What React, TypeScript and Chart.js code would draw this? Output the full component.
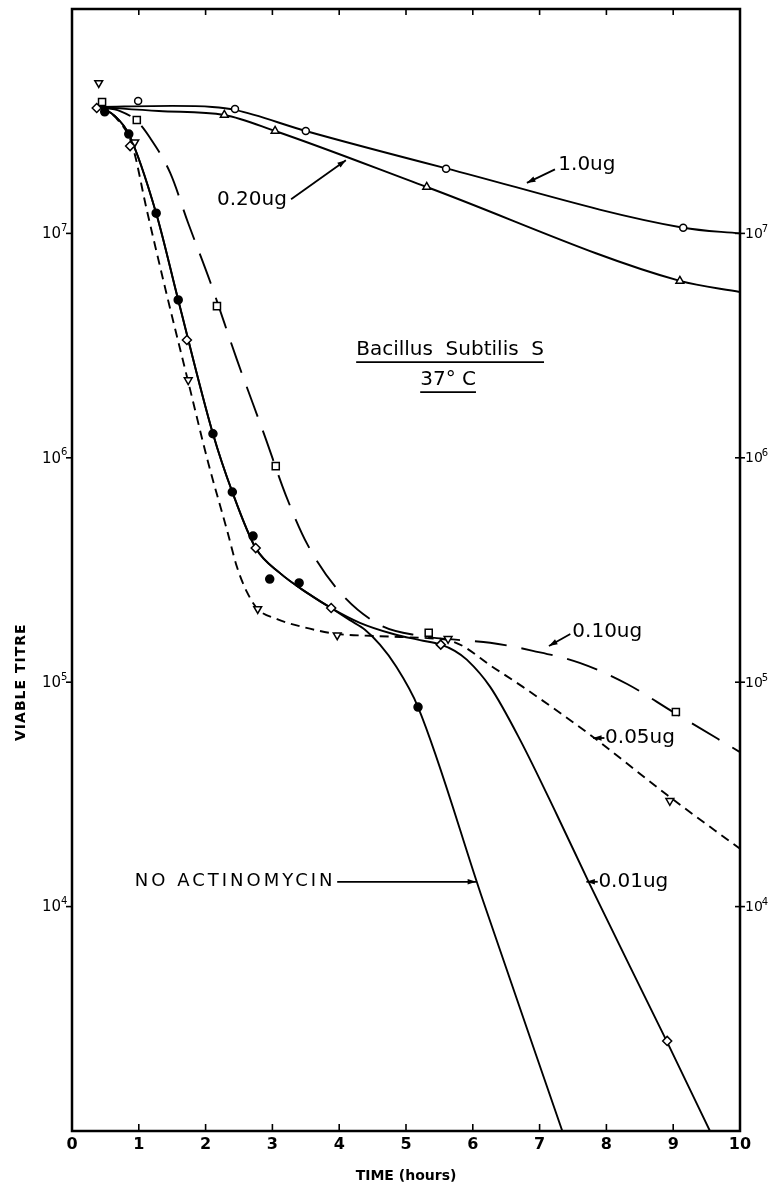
import React, { useEffect, useRef } from "react";
import { Chart, registerables } from "chart.js";

Chart.register(...registerables);

const FONT = '"DejaVu Sans", "Liberation Sans", sans-serif';

// ---- axes / text ----
const xTickValues = [0, 1, 2, 3, 4, 5, 6, 7, 8, 9, 10];
const yDecadeExponents = [4, 5, 6, 7];
const xAxisTitle = "TIME (hours)";
const yAxisTitle = "VIABLE TITRE";
const chartTitle = "Bacillus  Subtilis  S";
const chartSubtitle = "37° C";

// ---- measured points (time in hours, viable titre) ----
// NO ACTINOMYCIN – filled circles
const noActTimes = [0.49, 0.85, 1.26, 1.59, 2.11, 2.40, 2.71, 2.96, 3.40, 5.18];
const noActTitres = [3.48e7, 2.77e7, 1.23e7, 5.05e6, 1.28e6, 7.04e5, 4.48e5, 2.88e5, 2.77e5, 7.75e4];
// 0.01 ug – open diamonds
const ug001Times = [0.37, 0.87, 1.72, 2.75, 3.88, 5.52, 8.91];
const ug001Titres = [3.62e7, 2.45e7, 3.35e6, 3.96e5, 2.14e5, 1.47e5, 2.52e3];
// 0.05 ug – open triangles (down)
const ug005Times = [0.40, 0.94, 1.74, 2.78, 3.97, 5.63, 8.95];
const ug005Titres = [4.68e7, 2.55e7, 2.22e6, 2.12e5, 1.62e5, 1.56e5, 2.96e4];
// 0.10 ug – open squares
const ug010Times = [0.45, 0.97, 2.17, 3.05, 5.34, 9.04];
const ug010Titres = [3.85e7, 3.20e7, 4.74e6, 9.18e5, 1.66e5, 7.36e4];
// 0.20 ug – open triangles (up)
const ug020Times = [2.28, 3.04, 5.31, 9.10];
const ug020Titres = [3.37e7, 2.86e7, 1.61e7, 6.14e6];
// 1.0 ug – open circles
const ug100Times = [0.99, 2.44, 3.50, 5.60, 9.15];
const ug100Titres = [3.89e7, 3.58e7, 2.86e7, 1.94e7, 1.06e7];

// ---- fitted curves drawn by hand on the original ----
const noActCurveT = [0.42, 0.64, 0.85, 1.26, 1.59, 2.11, 2.40, 2.75, 3.11, 3.52, 3.88, 4.16, 4.39, 4.61, 4.84, 5.18, 6.15, 7.34];
const noActCurveV = [3.66e7, 3.34e7, 2.77e7, 1.23e7, 5.05e6, 1.28e6, 7.04e5, 3.96e5, 3.07e5, 2.50e5, 2.14e5, 1.89e5, 1.71e5, 1.47e5, 1.19e5, 7.75e4, 1.07e4, 1.0e3];

const ug001CurveT = [0.42, 0.64, 0.85, 1.26, 1.59, 2.11, 2.40, 2.75, 3.11, 3.52, 3.88, 4.31, 4.81, 5.21, 5.52, 5.73, 5.91, 6.26, 6.71, 7.26, 7.75, 8.35, 8.91, 9.55];
const ug001CurveV = [3.66e7, 3.34e7, 2.77e7, 1.23e7, 5.05e6, 1.28e6, 7.04e5, 3.96e5, 3.07e5, 2.50e5, 2.14e5, 1.84e5, 1.64e5, 1.54e5, 1.47e5, 1.38e5, 1.26e5, 9.53e4, 5.52e4, 2.56e4, 1.26e4, 5.43e3, 2.49e3, 1.0e3];

const ug005CurveT = [0.42, 0.66, 0.90, 1.12, 1.42, 1.74, 2.04, 2.32, 2.47, 2.62, 2.78, 3.07, 3.46, 3.97, 4.46, 4.91, 5.36, 5.63, 5.85, 6.26, 6.75, 7.80, 8.91, 10];
const ug005CurveV = [3.66e7, 3.27e7, 2.48e7, 1.27e7, 5.31e6, 2.18e6, 9.48e5, 4.77e5, 3.26e5, 2.52e5, 2.12e5, 1.91e5, 1.76e5, 1.64e5, 1.61e5, 1.59e5, 1.57e5, 1.54e5, 1.45e5, 1.19e5, 9.53e4, 5.70e4, 3.14e4, 1.81e4];

const ug010CurveT = [0.42, 0.72, 0.97, 1.17, 1.47, 1.74, 2.07, 2.47, 2.89, 3.20, 3.53, 4.01, 4.61, 5.21, 5.81, 6.26, 6.90, 7.60, 8.31, 9.00, 10];
const ug010CurveV = [3.66e7, 3.51e7, 3.17e7, 2.66e7, 1.86e7, 1.11e7, 6.07e6, 2.73e6, 1.24e6, 6.82e5, 4.08e5, 2.52e5, 1.80e5, 1.61e5, 1.54e5, 1.50e5, 1.38e5, 1.22e5, 9.82e4, 7.36e4, 4.88e4];

const ug020CurveT = [0.42, 1.30, 2.28, 3.04, 5.31, 9.10, 10];
const ug020CurveV = [3.66e7, 3.51e7, 3.37e7, 2.86e7, 1.61e7, 6.14e6, 5.48e6];

const ug100CurveT = [0.42, 1.50, 2.10, 2.44, 3.50, 5.60, 9.15, 10];
const ug100CurveV = [3.66e7, 3.70e7, 3.66e7, 3.55e7, 2.86e7, 1.95e7, 1.06e7, 1.0e7];

// ---- curve labels (anchored in data coordinates) ----
const curveLabels = [
  { text: "1.0ug", x: 7.28, y: 2.02e7, from: [7.23, 1.93e7], to: [6.81, 1.68e7] },
  { text: "0.20ug", x: 2.17, y: 1.41e7, from: [3.28, 1.42e7], to: [4.10, 2.12e7] },
  { text: "0.10ug", x: 7.49, y: 1.67e5, from: [7.46, 1.64e5], to: [7.14, 1.45e5] },
  { text: "0.05ug", x: 7.98, y: 5.64e4, from: [7.97, 5.64e4], to: [7.80, 5.64e4] },
  { text: "0.01ug", x: 7.88, y: 1.29e4, from: [7.87, 1.29e4], to: [7.70, 1.29e4] },
  { text: "NO ACTINOMYCIN", x: 0.94, y: 1.29e4, from: [3.97, 1.29e4], to: [6.05, 1.29e4] },
];

const pts = (xs: number[], ys: number[]) => xs.map((x, i) => ({ x, y: ys[i] }));

function seg(ctx: CanvasRenderingContext2D, x1: number, y1: number, x2: number, y2: number) {
  ctx.beginPath();
  ctx.moveTo(x1, y1);
  ctx.lineTo(x2, y2);
  ctx.stroke();
}

function arrow(ctx: CanvasRenderingContext2D, x1: number, y1: number, x2: number, y2: number) {
  ctx.lineWidth = 1.8;
  seg(ctx, x1, y1, x2, y2);
  const a = Math.atan2(y2 - y1, x2 - x1);
  const h = 9;
  ctx.beginPath();
  ctx.moveTo(x2, y2);
  ctx.lineTo(x2 - h * Math.cos(a - 0.32), y2 - h * Math.sin(a - 0.32));
  ctx.lineTo(x2 - h * Math.cos(a + 0.32), y2 - h * Math.sin(a + 0.32));
  ctx.closePath();
  ctx.fill();
}

const decorPlugin = {
  id: "decor",
  afterDatasetsDraw(chart: any) {
    const { ctx, chartArea: a, scales } = chart;
    const xs = scales.x;
    const ys = scales.y;
    ctx.save();
    ctx.strokeStyle = "#000";
    ctx.fillStyle = "#000";

    // frame
    ctx.lineWidth = 2.5;
    ctx.strokeRect(a.left, a.top, a.right - a.left, a.bottom - a.top);

    // x ticks
    ctx.lineWidth = 1.6;
    ctx.font = `bold 16px ${FONT}`;
    ctx.textAlign = "center";
    ctx.textBaseline = "middle";
    xTickValues.forEach((v) => {
      const px = xs.getPixelForValue(v);
      if (v > xs.min && v < xs.max) {
        seg(ctx, px, a.bottom, px, a.bottom - 7);
        seg(ctx, px, a.top, px, a.top + 6);
      }
      ctx.fillText(String(v), px, a.bottom + 14);
    });

    // y ticks and labels (both sides)
    yDecadeExponents.forEach((e) => {
      const py = ys.getPixelForValue(Math.pow(10, e));
      ctx.lineWidth = 1.6;
      seg(ctx, a.left - 6, py, a.left, py);
      seg(ctx, a.right - 5, py, a.right + 5, py);
      // left
      ctx.font = `15px ${FONT}`;
      ctx.textAlign = "right";
      ctx.fillText("10", a.left - 11, py + 1);
      ctx.font = `10px ${FONT}`;
      ctx.textAlign = "left";
      ctx.fillText(String(e), a.left - 11, py - 5);
      // right
      ctx.font = `14px ${FONT}`;
      ctx.textAlign = "left";
      ctx.fillText("10", a.right + 5, py + 1);
      const w = ctx.measureText("10").width;
      ctx.font = `10px ${FONT}`;
      ctx.fillText(String(e), a.right + 4 + w, py - 4);
    });

    // axis titles
    ctx.font = `bold 14px ${FONT}`;
    ctx.textAlign = "center";
    ctx.fillText(xAxisTitle, (a.left + a.right) / 2, a.bottom + 45);
    ctx.save();
    ctx.translate(21, ys.getPixelForValue(1e5));
    ctx.rotate(-Math.PI / 2);
    (ctx as any).letterSpacing = "1px";
    ctx.fillText(yAxisTitle, 0, 0);
    ctx.restore();

    // title
    ctx.font = `20px ${FONT}`;
    ctx.textAlign = "center";
    const tx = xs.getPixelForValue(5.66);
    const ty = ys.getPixelForValue(3.02e6);
    (ctx as any).letterSpacing = "0px";
    ctx.fillText(chartTitle, tx, ty);
    let w = ctx.measureText(chartTitle).width;
    ctx.lineWidth = 1.8;
    seg(ctx, tx - w / 2, ty + 12, tx + w / 2, ty + 12);
    const sx = xs.getPixelForValue(5.63);
    const sy = ys.getPixelForValue(2.22e6);
    ctx.fillText(chartSubtitle, sx, sy);
    w = ctx.measureText(chartSubtitle).width;
    seg(ctx, sx - w / 2, sy + 12, sx + w / 2, sy + 12);

    // curve labels
    curveLabels.forEach((l) => {
      const big = l.text === "NO ACTINOMYCIN";
      ctx.font = big ? `18px ${FONT}` : `20px ${FONT}`;
      (ctx as any).letterSpacing = big ? "3px" : "0px";
      ctx.textAlign = "left";
      ctx.fillText(l.text, xs.getPixelForValue(l.x), ys.getPixelForValue(l.y));
      arrow(
        ctx,
        xs.getPixelForValue(l.from[0]),
        ys.getPixelForValue(l.from[1]),
        xs.getPixelForValue(l.to[0]),
        ys.getPixelForValue(l.to[1])
      );
    });
    (ctx as any).letterSpacing = "0px";
    ctx.restore();
  },
};

function curve(label: string, t: number[], v: number[], dash: number[]) {
  return {
    label,
    data: pts(t, v),
    showLine: true,
    borderColor: "#000",
    borderWidth: 1.9,
    borderDash: dash,
    pointRadius: 0,
    pointHoverRadius: 0,
    cubicInterpolationMode: "monotone",
    fill: false,
    order: 2,
  };
}

function marks(label: string, t: number[], v: number[], style: string, radius: number, filled: boolean, rotation = 0) {
  return {
    label,
    data: pts(t, v),
    showLine: false,
    pointStyle: style,
    pointRadius: radius,
    pointRotation: rotation,
    pointBorderWidth: 1.5,
    pointBorderColor: "#000",
    pointBackgroundColor: filled ? "#000" : "#fff",
    borderColor: "#000",
    backgroundColor: filled ? "#000" : "#fff",
    order: 1,
  };
}

export default function App() {
  const ref = useRef<HTMLCanvasElement | null>(null);
  useEffect(() => {
    if (!ref.current) return;
    const chart = new Chart(ref.current, {
      type: "line",
      data: {
        datasets: [
          curve("NO ACTINOMYCIN curve", noActCurveT, noActCurveV, []),
          curve("0.01ug curve", ug001CurveT, ug001CurveV, []),
          curve("0.05ug curve", ug005CurveT, ug005CurveV, [9, 6]),
          curve("0.10ug curve", ug010CurveT, ug010CurveV, [32, 15]),
          curve("0.20ug curve", ug020CurveT, ug020CurveV, []),
          curve("1.0ug curve", ug100CurveT, ug100CurveV, []),
          marks("NO ACTINOMYCIN", noActTimes, noActTitres, "circle", 4, true),
          marks("0.01ug", ug001Times, ug001Titres, "rectRot", 4.5, false),
          marks("0.05ug", ug005Times, ug005Titres, "triangle", 4.5, false, 180),
          marks("0.10ug", ug010Times, ug010Titres, "rect", 5, false),
          marks("0.20ug", ug020Times, ug020Titres, "triangle", 4.5, false),
          marks("1.0ug", ug100Times, ug100Titres, "circle", 3.5, false),
        ] as any,
      },
      options: {
        animation: false,
        responsive: false,
        devicePixelRatio: 1,
        layout: { padding: { left: 72, top: 9, right: 29, bottom: 56 } },
        plugins: { legend: { display: false }, tooltip: { enabled: false } },
        scales: {
          x: { type: "linear", min: 0, max: 10, display: false },
          y: { type: "logarithmic", min: 1e3, max: 1e8, display: false },
        },
      } as any,
      plugins: [decorPlugin],
    });
    return () => chart.destroy();
  }, []);
  return (
    <div style={{ position: "absolute", left: 0, top: 0, width: 769, height: 1187, background: "#fff" }}>
      <canvas ref={ref} width={769} height={1187} />
    </div>
  );
}
